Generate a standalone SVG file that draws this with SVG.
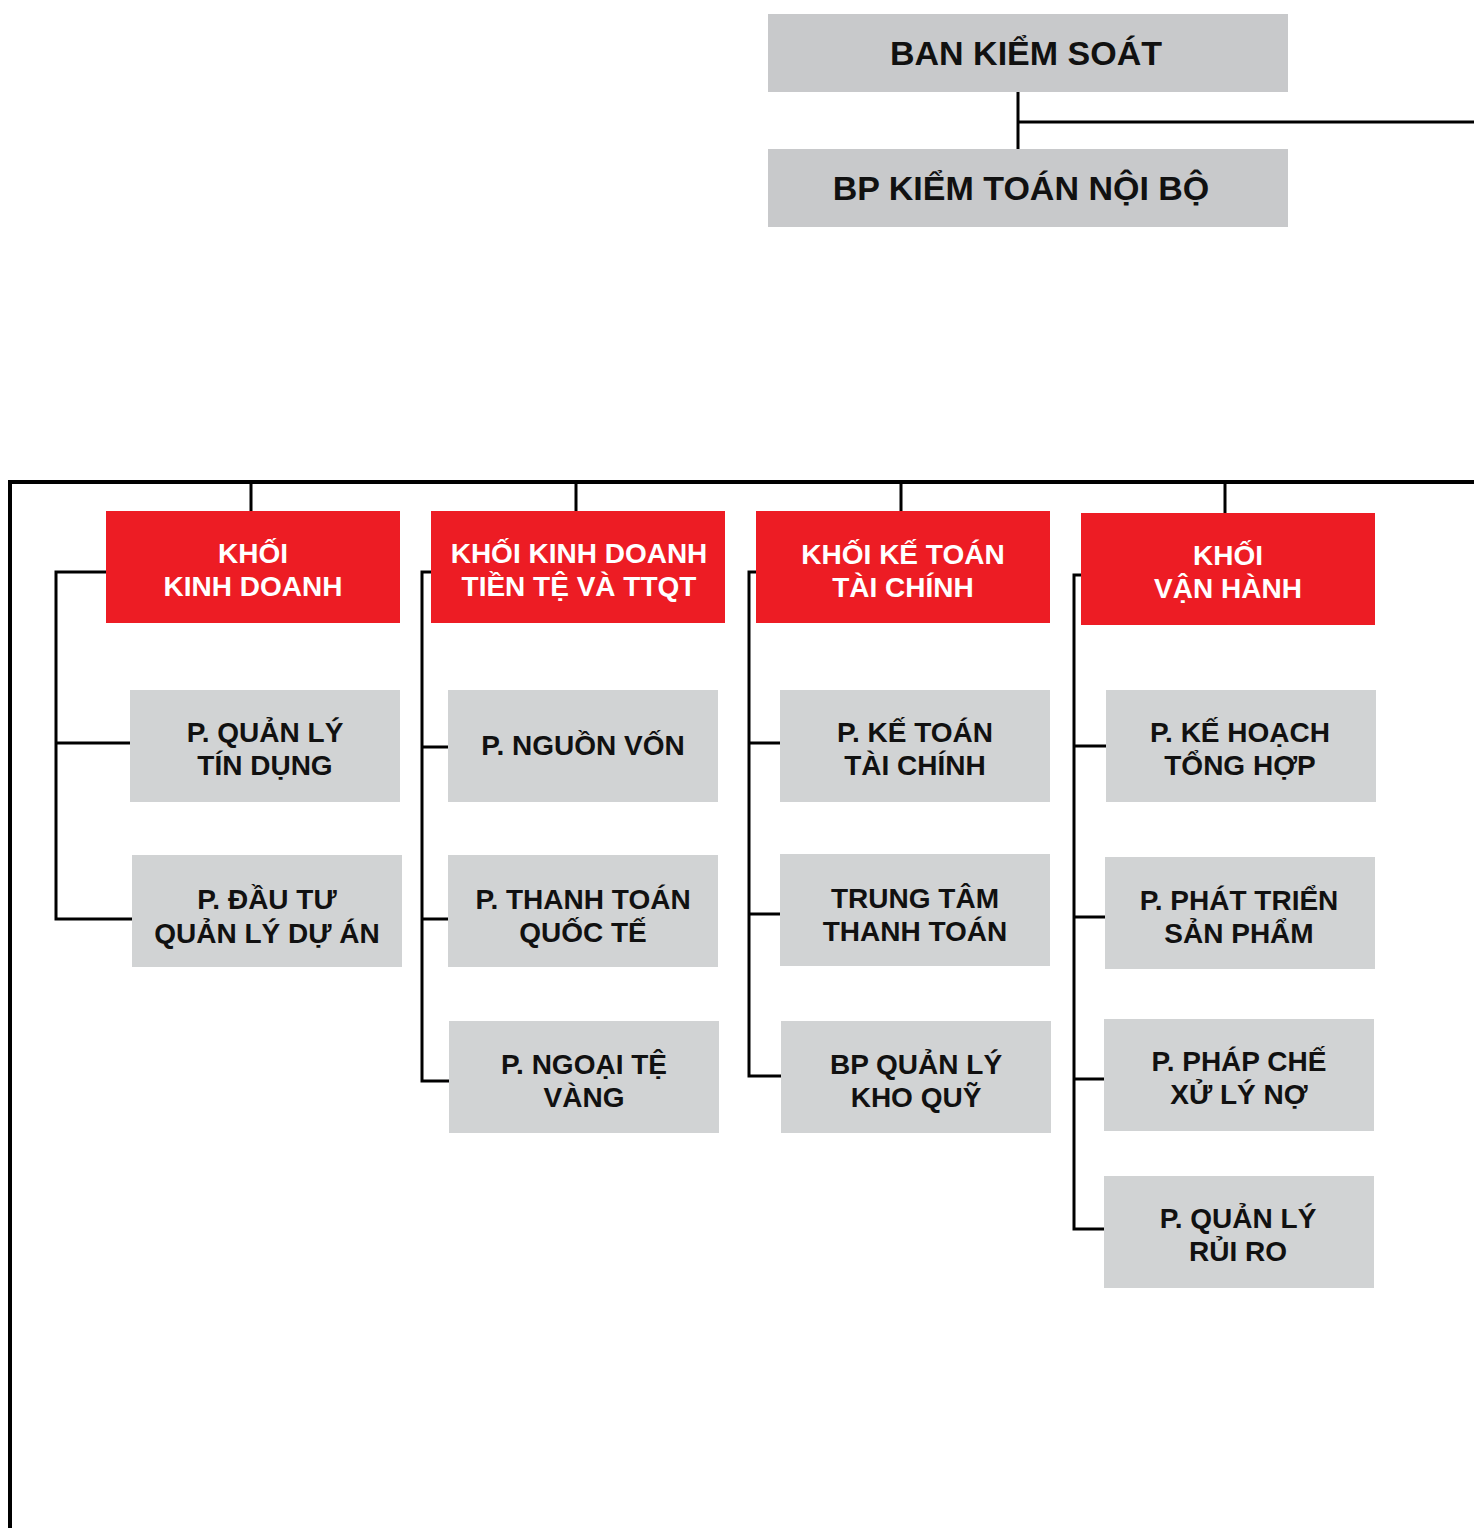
<svg xmlns="http://www.w3.org/2000/svg" width="1474" height="1528" viewBox="0 0 1474 1528">
<style>
.top{fill:#c8c9cb}
.red{fill:#ed1c24}
.gray{fill:#d1d3d4}
text{font-family:"Liberation Sans",Arial,sans-serif;font-weight:bold;text-anchor:middle}
.tt{font-size:34px;fill:#111}
.rt{font-size:28px;fill:#fff}
.gt{font-size:28px;fill:#111}
.ln{fill:none;stroke:#000;stroke-width:3}
.lm{fill:none;stroke:#000;stroke-width:4}
</style>
<rect width="1474" height="1528" fill="#fff"/>
<g id="connectors">
<path class="ln" d="M1018,92 V149 M1018,122 H1474"/>
<path class="lm" d="M10,1528 V482 H1474"/>
<path class="ln" d="M251,482 V511 M576,482 V511 M901,482 V511 M1225,482 V513"/>
<path class="ln" d="M106,572 H56 V919 H132 M56,743 H130"/>
<path class="ln" d="M431,572 H422 V1081 H449 M422,747 H448 M422,919 H448"/>
<path class="ln" d="M756,572 H749 V1076 H781 M749,743 H780 M749,914 H780"/>
<path class="ln" d="M1081,575 H1074 V1229 H1104 M1074,746 H1106 M1074,917 H1105 M1074,1079 H1104"/>
</g>
<g id="ban-kiem-soat"><rect class="top" x="768" y="14" width="520" height="78"/><text class="tt" x="1026" y="65">BAN KIỂM SOÁT</text></g>
<g id="bp-kiem-toan"><rect class="top" x="768" y="149" width="520" height="78"/><text class="tt" x="1021" y="200">BP KIỂM TOÁN NỘI BỘ</text></g>

<g id="khoi-kinh-doanh"><rect class="red" x="106" y="511" width="294" height="112"/><text class="rt" x="253" y="563">KHỐI</text><text class="rt" x="253" y="596">KINH DOANH</text></g>
<g id="khoi-kdtt"><rect class="red" x="431" y="511" width="294" height="112"/><text class="rt" x="579" y="563">KHỐI KINH DOANH</text><text class="rt" x="579" y="596">TIỀN TỆ VÀ TTQT</text></g>
<g id="khoi-ketoan"><rect class="red" x="756" y="511" width="294" height="112"/><text class="rt" x="903" y="564">KHỐI KẾ TOÁN</text><text class="rt" x="903" y="597">TÀI CHÍNH</text></g>
<g id="khoi-vanhanh"><rect class="red" x="1081" y="513" width="294" height="112"/><text class="rt" x="1228" y="565">KHỐI</text><text class="rt" x="1228" y="598">VẬN HÀNH</text></g>

<g id="p-ql-tin-dung"><rect class="gray" x="130" y="690" width="270" height="112"/><text class="gt" x="265" y="742">P. QUẢN LÝ</text><text class="gt" x="265" y="775">TÍN DỤNG</text></g>
<g id="p-dau-tu"><rect class="gray" x="132" y="855" width="270" height="112"/><text class="gt" x="267" y="909">P. ĐẦU TƯ</text><text class="gt" x="267" y="943">QUẢN LÝ DỰ ÁN</text></g>

<g id="p-nguon-von"><rect class="gray" x="448" y="690" width="270" height="112"/><text class="gt" x="583" y="755">P. NGUỒN VỐN</text></g>
<g id="p-thanh-toan-qt"><rect class="gray" x="448" y="855" width="270" height="112"/><text class="gt" x="583" y="909">P. THANH TOÁN</text><text class="gt" x="583" y="942">QUỐC TẾ</text></g>
<g id="p-ngoai-te"><rect class="gray" x="449" y="1021" width="270" height="112"/><text class="gt" x="584" y="1074">P. NGOẠI TỆ</text><text class="gt" x="584" y="1107">VÀNG</text></g>

<g id="p-ke-toan"><rect class="gray" x="780" y="690" width="270" height="112"/><text class="gt" x="915" y="742">P. KẾ TOÁN</text><text class="gt" x="915" y="775">TÀI CHÍNH</text></g>
<g id="tt-thanh-toan"><rect class="gray" x="780" y="854" width="270" height="112"/><text class="gt" x="915" y="908">TRUNG TÂM</text><text class="gt" x="915" y="941">THANH TOÁN</text></g>
<g id="bp-kho-quy"><rect class="gray" x="781" y="1021" width="270" height="112"/><text class="gt" x="916" y="1074">BP QUẢN LÝ</text><text class="gt" x="916" y="1107">KHO QUỸ</text></g>

<g id="p-ke-hoach"><rect class="gray" x="1106" y="690" width="270" height="112"/><text class="gt" x="1240" y="742">P. KẾ HOẠCH</text><text class="gt" x="1240" y="775">TỔNG HỢP</text></g>
<g id="p-phat-trien"><rect class="gray" x="1105" y="857" width="270" height="112"/><text class="gt" x="1239" y="910">P. PHÁT TRIỂN</text><text class="gt" x="1239" y="943">SẢN PHẨM</text></g>
<g id="p-phap-che"><rect class="gray" x="1104" y="1019" width="270" height="112"/><text class="gt" x="1239" y="1071">P. PHÁP CHẾ</text><text class="gt" x="1239" y="1104">XỬ LÝ NỢ</text></g>
<g id="p-rui-ro"><rect class="gray" x="1104" y="1176" width="270" height="112"/><text class="gt" x="1238" y="1228">P. QUẢN LÝ</text><text class="gt" x="1238" y="1261">RỦI RO</text></g>
</svg>
